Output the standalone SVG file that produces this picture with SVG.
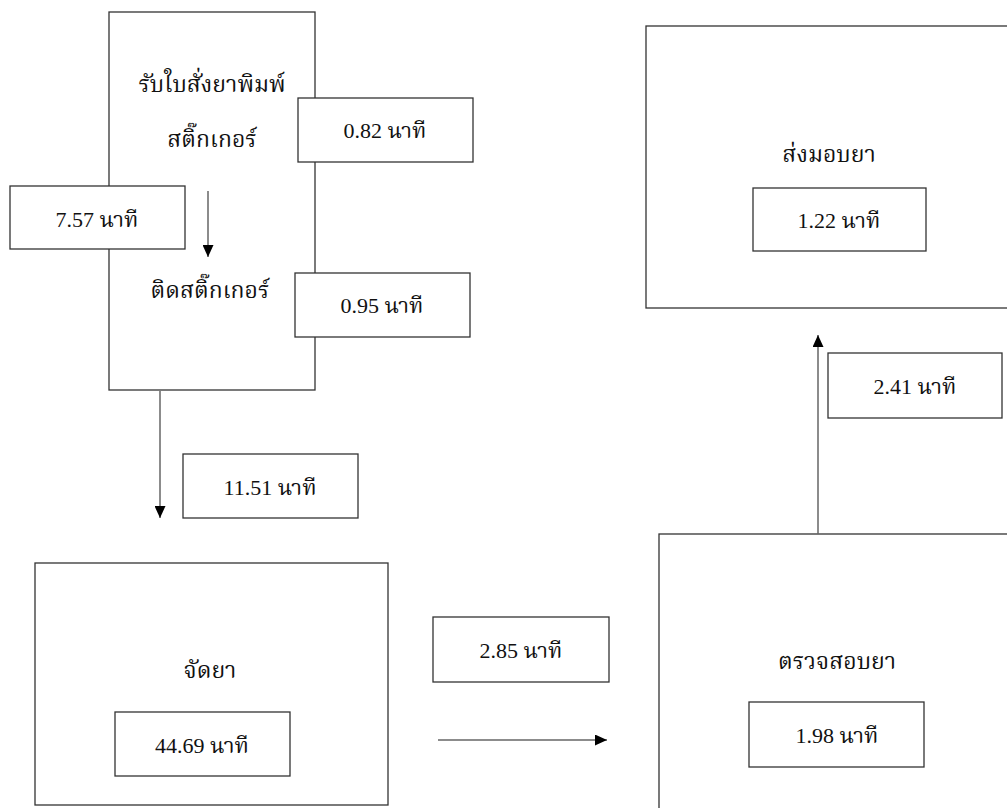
<svg xmlns="http://www.w3.org/2000/svg" width="1007" height="808" viewBox="0 0 1007 808">
<style>
.box{fill:#fff;stroke:#333;stroke-width:1.3}
.t{font-family:"Liberation Serif","Noto Serif Thai","Noto Sans Thai",serif;font-size:22px;fill:#111;text-anchor:middle}
.th{font-size:23px}
.c{stroke:#666;stroke-width:1.5;fill:none;marker-end:url(#ah)}
</style>
<defs>
<marker id="ah" viewBox="0 0 12 11" refX="12" refY="5.5" markerWidth="12" markerHeight="11" markerUnits="userSpaceOnUse" orient="auto">
<path d="M0,0 L12,5.5 L0,11 z" fill="#000"/>
</marker>
</defs>
<rect width="1007" height="808" fill="#fff"/>
<g id="n-receive">
<rect class="box" x="109" y="12" width="206" height="378"/>
<text class="t th" x="212" y="92">รับใบสั่งยาพิมพ์</text>
<text class="t th" x="212" y="147">สติ๊กเกอร์</text>
<text class="t th" x="210" y="298">ติดสติ๊กเกอร์</text>
</g>
<g id="n-t082">
<rect class="box" x="298" y="98" width="175" height="64"/>
<text class="t" x="385" y="138">0.82 นาที</text>
</g>
<g id="n-t757">
<rect class="box" x="10" y="186" width="175" height="63"/>
<text class="t" x="97" y="227">7.57 นาที</text>
</g>
<g id="n-t095">
<rect class="box" x="295" y="273" width="175" height="64"/>
<text class="t" x="382" y="313">0.95 นาที</text>
</g>
<g id="n-t1151">
<rect class="box" x="183" y="454" width="175" height="64"/>
<text class="t" x="270" y="495">11.51 นาที</text>
</g>
<g id="n-dispense">
<rect class="box" x="35" y="563" width="353" height="242"/>
<text class="t th" x="210" y="678">จัดยา</text>
<rect class="box" x="115" y="712" width="175" height="64"/>
<text class="t" x="202" y="753">44.69 นาที</text>
</g>
<g id="n-t285">
<rect class="box" x="433" y="617" width="176" height="65"/>
<text class="t" x="521" y="658">2.85 นาที</text>
</g>
<g id="n-check">
<rect class="box" x="659" y="534" width="360" height="290"/>
<text class="t th" x="837" y="669">ตรวจสอบยา</text>
<rect class="box" x="749" y="702" width="175" height="65"/>
<text class="t" x="837" y="743">1.98 นาที</text>
</g>
<g id="n-t241">
<rect class="box" x="828" y="353" width="174" height="65"/>
<text class="t" x="915" y="394">2.41 นาที</text>
</g>
<g id="n-deliver">
<rect class="box" x="646" y="26" width="370" height="282"/>
<text class="t th" x="829" y="162">ส่งมอบยา</text>
<rect class="box" x="753" y="188" width="173" height="63"/>
<text class="t" x="839" y="228">1.22 นาที</text>
</g>
<g id="connectors">
<line class="c" x1="208" y1="191" x2="208" y2="257"/>
<line class="c" x1="160" y1="391" x2="160" y2="518"/>
<line class="c" x1="438" y1="740" x2="607" y2="740"/>
<line class="c" x1="818" y1="534" x2="818" y2="335"/>
</g>
</svg>
